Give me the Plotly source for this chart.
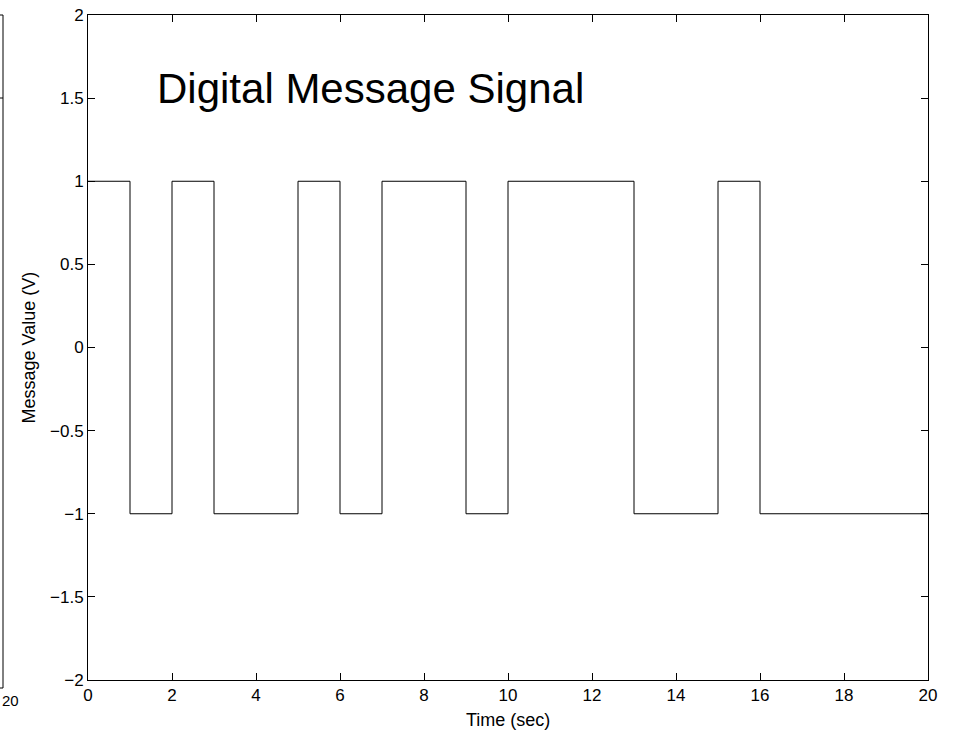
import plotly.graph_objects as go

# Data: one bit per second, 0..20 s
bit_times = list(range(0, 21))
bit_values = [1, -1, 1, -1, -1, 1, -1, 1, 1, -1, 1, 1, 1, -1, -1, 1, -1, -1, -1, -1, -1]

x_ticks = [0, 2, 4, 6, 8, 10, 12, 14, 16, 18, 20]
y_ticks = [-2, -1.5, -1, -0.5, 0, 0.5, 1, 1.5, 2]
y_tick_text = ["\u22122", "\u22121.5", "\u22121", "\u22120.5", "0", "0.5", "1", "1.5", "2"]

FONT = "Liberation Sans, Arial, Helvetica, sans-serif"
W, H = 954, 733
L, R, T, B = 88, 26, 15, 53
PW, PH = W - L - R, H - T - B

fig = go.Figure()
fig.add_trace(go.Scatter(
    x=bit_times, y=bit_values, mode="lines", line_shape="hv",
    line=dict(color="black", width=1), showlegend=False, hoverinfo="skip"))

axis_common = dict(
    showgrid=False, zeroline=False, showline=True, linecolor="black", linewidth=1,
    mirror="ticks", ticks="inside", ticklen=7, tickcolor="black", tickwidth=1,
    tickfont=dict(family=FONT, size=17, color="black"))

fig.update_layout(
    width=W, height=H,
    margin=dict(l=L, r=R, t=T, b=B, autoexpand=False),
    paper_bgcolor="white", plot_bgcolor="white",
    font=dict(family=FONT, color="black"),
    xaxis=dict(range=[0, 20], tickvals=x_ticks, ticktext=[str(v) for v in x_ticks],
               **axis_common),
    yaxis=dict(range=[-2, 2], tickvals=y_ticks, ticktext=y_tick_text,
               **axis_common),
)

# Axis titles
fig.add_annotation(x=0.5, y=(680 - 720) / PH, xref="paper", yref="paper",
                   text="Time (sec)", showarrow=False, xanchor="center", yanchor="middle",
                   font=dict(family=FONT, size=18, color="black"))
fig.add_annotation(x=(28 - L) / PW, y=0.5, xref="paper", yref="paper",
                   text="Message Value (V)", showarrow=False, textangle=-90,
                   xanchor="center", yanchor="middle",
                   font=dict(family=FONT, size=18, color="black"))

fig.add_annotation(x=1.6, y=1.56, xref="x", yref="y", text="Digital Message Signal",
                   showarrow=False, xanchor="left", yanchor="middle",
                   font=dict(family=FONT, size=42, color="black"))

# Fragment of the neighbouring subplot visible at the left edge
xl = (3 - L) / PW
x0e = (0 - L) / PW
yb = (680 - 688) / PH
y15 = (680 - 98) / PH
fig.add_shape(type="line", xref="paper", yref="paper", x0=xl, x1=xl, y0=1.0, y1=yb,
              line=dict(color="black", width=1))
for yy in (1.0, yb, y15):
    fig.add_shape(type="line", xref="paper", yref="paper", x0=x0e, x1=xl, y0=yy, y1=yy,
                  line=dict(color="black", width=1))
fig.add_annotation(x=x0e, y=(680 - 690) / PH, xref="paper", yref="paper", text="20",
                   showarrow=False, xanchor="left", yanchor="top",
                   font=dict(family=FONT, size=15, color="black"))

fig.write_html("out.html", config={"displayModeBar": False},
               post_script="document.body.style.margin='0';")
